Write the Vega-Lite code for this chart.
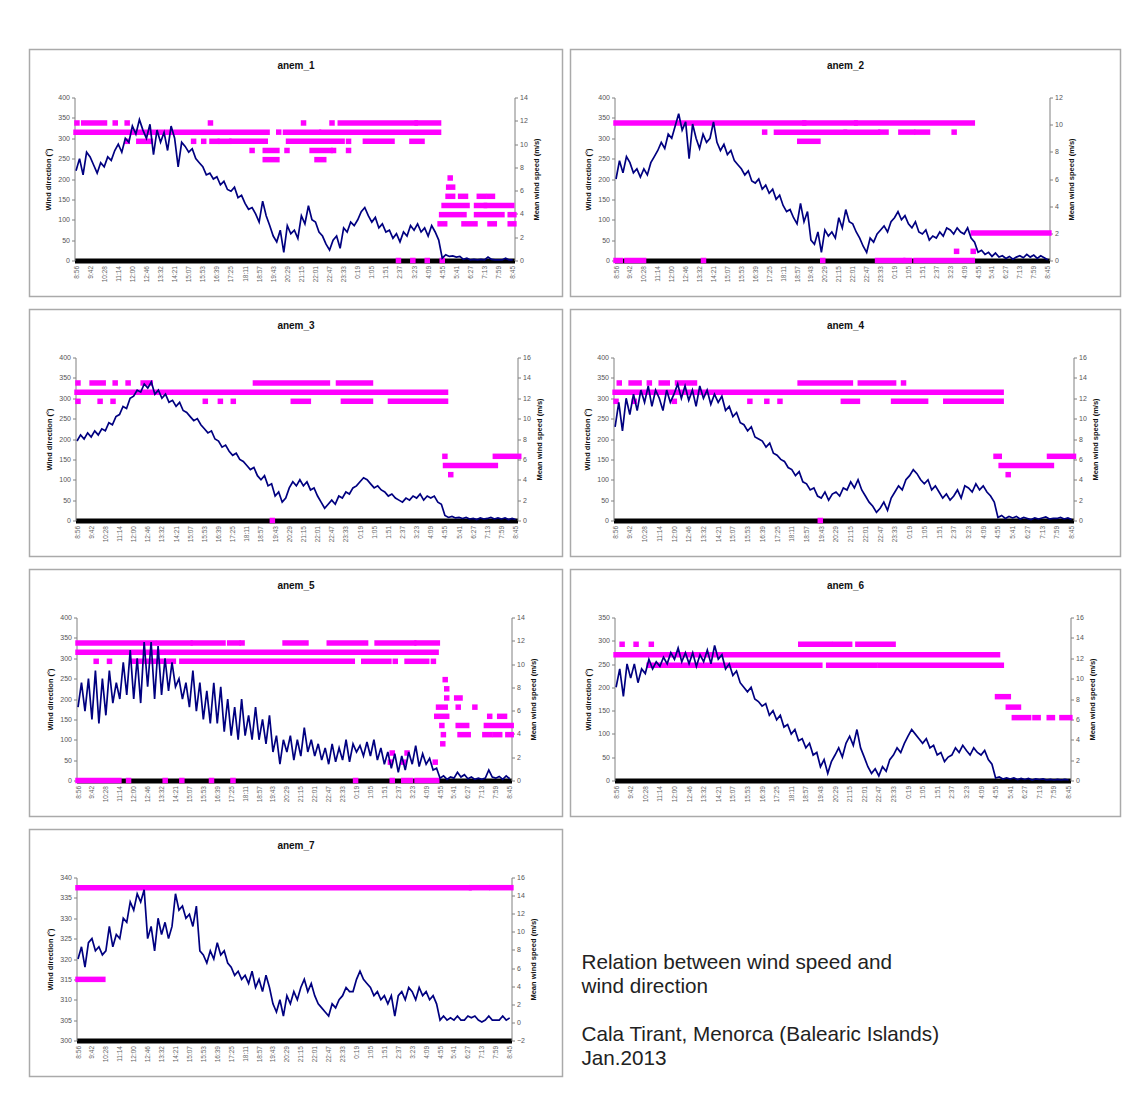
{
"$schema": "https://vega.github.io/schema/vega-lite/v6.json",
"padding": {"left": 28.5, "top": 48.5, "right": 4, "bottom": 4},
"config": {
  "font": "Liberation Sans",
  "view": {"stroke": "#aaaaaa", "strokeWidth": 1.5},
  "title": {"fontSize": 10, "fontWeight": "bold", "font": "Liberation Sans", "color": "#111111", "anchor": "middle"},
  "axis": {"labelFont": "Liberation Sans", "labelFontSize": 7, "labelColor": "#555555", "titleFont": "Liberation Sans", "titleFontSize": 7.5, "titleFontWeight": "bold", "titleColor": "#111111", "domainColor": "#808080", "tickColor": "#808080", "tickSize": 3, "grid": false, "labelPadding": 2, "labelFlush": false, "labelOverlap": false, "titlePadding": 5},
  "axisX": {"domainColor": "#000000", "domainWidth": 5, "ticks": false, "labelAngle": 270, "labelPadding": 5, "labelFontSize": 6.5, "labelColor": "#666666"},
  "axisRight": {"titleAngle": 270, "titleBaseline": "top", "titlePadding": 5},
  "concat": {"spacing": 6}
},
"datasets": {
"speed": [
{"m":0,"a1":7.7,"a2":6.0,"a3":7.8,"a4":9.2,"a5":6.3,"a6":9.15,"a7":7.0},
{"m":11.5,"a1":8.75,"a2":7.35,"a3":8.4,"a4":11.6,"a5":8.4,"a6":10.95,"a7":8.35},
{"m":23,"a1":7.35,"a2":6.45,"a3":8.0,"a4":8.8,"a5":5.95,"a6":8.25,"a7":6.1},
{"m":34.5,"a1":9.3,"a2":7.65,"a3":8.6,"a4":12.0,"a5":8.75,"a6":11.45,"a7":8.8},
{"m":46,"a1":8.9,"a2":7.2,"a3":8.2,"a4":10.4,"a5":5.25,"a6":10.05,"a7":9.25},
{"m":57.5,"a1":8.2,"a2":6.45,"a3":8.8,"a4":12.4,"a5":9.45,"a6":11.45,"a7":7.9},
{"m":69,"a1":7.5,"a2":6.75,"a3":8.4,"a4":10.8,"a5":4.9,"a6":9.6,"a7":8.35},
{"m":80.5,"a1":8.4,"a2":6.15,"a3":9.0,"a4":12.8,"a5":8.75,"a6":10.95,"a7":7.45},
{"m":92,"a1":8.05,"a2":6.75,"a3":8.8,"a4":11.6,"a5":5.6,"a6":10.5,"a7":7.9},
{"m":103.5,"a1":8.9,"a2":6.3,"a3":9.6,"a4":13.2,"a5":9.45,"a6":11.9,"a7":10.6},
{"m":115,"a1":8.6,"a2":7.2,"a3":9.4,"a4":11.2,"a5":6.65,"a6":10.95,"a7":8.35},
{"m":126.5,"a1":9.45,"a2":7.65,"a3":10.2,"a4":12.8,"a5":8.4,"a6":11.65,"a7":9.7},
{"m":138,"a1":10.0,"a2":8.1,"a3":10.4,"a4":12.0,"a5":7.0,"a6":11.2,"a7":9.25},
{"m":149.5,"a1":9.3,"a2":8.7,"a3":11.2,"a4":10.8,"a5":10.15,"a6":12.1,"a7":11.5},
{"m":161,"a1":10.5,"a2":8.25,"a3":11.0,"a4":12.8,"a5":7.35,"a6":11.45,"a7":11.05},
{"m":172.5,"a1":10.15,"a2":9.3,"a3":12.0,"a4":11.6,"a5":11.2,"a6":12.55,"a7":13.3},
{"m":184,"a1":11.55,"a2":9.0,"a3":12.2,"a4":12.4,"a5":7.0,"a6":11.9,"a7":12.4},
{"m":195.5,"a1":10.85,"a2":9.9,"a3":12.8,"a4":13.4,"a5":10.5,"a6":13.0,"a7":14.2},
{"m":207,"a1":12.1,"a2":10.8,"a3":12.6,"a4":12.0,"a5":6.65,"a6":11.65,"a7":13.3},
{"m":218.5,"a1":11.2,"a2":9.6,"a3":13.4,"a4":13.2,"a5":11.9,"a6":12.55,"a7":14.65},
{"m":230,"a1":10.5,"a2":10.2,"a3":13.0,"a4":11.8,"a5":8.05,"a6":11.45,"a7":9.25},
{"m":241.5,"a1":11.7,"a2":7.5,"a3":13.6,"a4":12.8,"a5":11.9,"a6":12.55,"a7":10.6},
{"m":253,"a1":9.1,"a2":10.05,"a3":12.4,"a4":11.2,"a5":7.0,"a6":11.2,"a7":7.9},
{"m":264.5,"a1":11.2,"a2":9.0,"a3":12.8,"a4":13.2,"a5":11.55,"a6":12.35,"a7":11.5},
{"m":276,"a1":10.15,"a2":8.25,"a3":12.0,"a4":12.0,"a5":7.35,"a6":11.65,"a7":9.7},
{"m":287.5,"a1":11.0,"a2":9.3,"a3":12.4,"a4":12.8,"a5":10.5,"a6":12.8,"a7":11.05},
{"m":299,"a1":9.45,"a2":8.7,"a3":11.6,"a4":11.4,"a5":7.7,"a6":11.45,"a7":9.25},
{"m":310.5,"a1":11.55,"a2":9.0,"a3":11.8,"a4":12.4,"a5":10.15,"a6":13.25,"a7":10.6},
{"m":322,"a1":10.5,"a2":10.2,"a3":11.2,"a4":11.6,"a5":8.05,"a6":11.9,"a7":14.2},
{"m":333.5,"a1":8.05,"a2":8.7,"a3":11.6,"a4":12.2,"a5":8.75,"a6":12.35,"a7":12.4},
{"m":345,"a1":10.15,"a2":8.1,"a3":10.8,"a4":10.8,"a5":7.0,"a6":10.95,"a7":12.85},
{"m":356.5,"a1":9.8,"a2":8.55,"a3":10.6,"a4":11.2,"a5":8.4,"a6":11.45,"a7":11.5},
{"m":368,"a1":9.3,"a2":7.8,"a3":10.2,"a4":10.2,"a5":6.3,"a6":10.3,"a7":11.95},
{"m":379.5,"a1":9.6,"a2":8.1,"a3":9.8,"a4":10.6,"a5":9.45,"a6":10.75,"a7":10.6},
{"m":391,"a1":8.75,"a2":7.35,"a3":10.0,"a4":9.6,"a5":5.95,"a6":9.6,"a7":12.85},
{"m":402.5,"a1":8.4,"a2":7.05,"a3":9.4,"a4":9.4,"a5":8.4,"a6":9.15,"a7":7.9},
{"m":414,"a1":8.05,"a2":6.75,"a3":9.0,"a4":8.8,"a5":5.25,"a6":8.7,"a7":7.45},
{"m":425.5,"a1":7.35,"a2":6.3,"a3":8.6,"a4":9.2,"a5":7.7,"a6":9.15,"a7":6.55},
{"m":437,"a1":7.5,"a2":6.6,"a3":8.8,"a4":8.2,"a5":4.9,"a6":8.0,"a7":7.9},
{"m":448.5,"a1":7.0,"a2":5.85,"a3":8.0,"a4":8.0,"a5":8.4,"a6":7.75,"a7":7.0},
{"m":460,"a1":7.2,"a2":5.7,"a3":7.8,"a4":7.8,"a5":4.9,"a6":7.3,"a7":8.8},
{"m":471.5,"a1":6.5,"a2":6.0,"a3":7.2,"a4":7.2,"a5":8.05,"a6":7.55,"a7":7.45},
{"m":483,"a1":6.8,"a2":5.25,"a3":7.4,"a4":7.6,"a5":4.2,"a6":6.4,"a7":7.9},
{"m":494.5,"a1":6.1,"a2":5.55,"a3":6.8,"a4":6.6,"a5":7.0,"a6":6.85,"a7":6.55},
{"m":506,"a1":5.95,"a2":4.95,"a3":6.4,"a4":6.4,"a5":3.85,"a6":5.95,"a7":6.1},
{"m":517.5,"a1":6.3,"a2":5.25,"a3":6.6,"a4":6.0,"a5":6.3,"a6":6.4,"a7":5.2},
{"m":529,"a1":5.4,"a2":4.5,"a3":6.0,"a4":5.8,"a5":3.5,"a6":5.25,"a7":5.65},
{"m":540.5,"a1":5.6,"a2":4.8,"a3":5.8,"a4":5.2,"a5":7.0,"a6":5.5,"a7":4.75},
{"m":552,"a1":4.9,"a2":4.05,"a3":5.4,"a4":5.0,"a5":3.85,"a6":4.55,"a7":5.2},
{"m":563.5,"a1":4.4,"a2":3.6,"a3":5.0,"a4":4.4,"a5":5.6,"a6":5.0,"a7":4.3},
{"m":575,"a1":4.55,"a2":3.75,"a3":5.2,"a4":4.8,"a5":3.5,"a6":3.9,"a7":5.65},
{"m":586.5,"a1":4.0,"a2":3.15,"a3":4.4,"a4":3.8,"a5":6.3,"a6":4.1,"a7":3.85},
{"m":598,"a1":3.3,"a2":2.7,"a3":4.0,"a4":3.6,"a5":3.5,"a6":3.2,"a7":4.75},
{"m":609.5,"a1":5.1,"a2":4.2,"a3":4.4,"a4":3.0,"a5":5.25,"a6":3.65,"a7":3.4},
{"m":621,"a1":3.85,"a2":2.85,"a3":3.4,"a4":3.2,"a5":3.15,"a6":2.5,"a7":5.2},
{"m":632.5,"a1":3.0,"a2":3.6,"a3":3.6,"a4":2.4,"a5":5.6,"a6":2.75,"a7":3.85},
{"m":644,"a1":2.1,"a2":1.5,"a3":2.4,"a4":2.2,"a5":2.45,"a6":1.35,"a7":2.05},
{"m":655.5,"a1":1.6,"a2":1.2,"a3":2.8,"a4":2.8,"a5":3.85,"a6":2.05,"a7":1.15},
{"m":667,"a1":2.6,"a2":2.1,"a3":1.8,"a4":2.0,"a5":1.4,"a6":0.7,"a7":2.5},
{"m":678.5,"a1":0.7,"a2":0.6,"a3":2.2,"a4":2.6,"a5":3.5,"a6":1.85,"a7":0.7},
{"m":690,"a1":3.0,"a2":2.25,"a3":3.2,"a4":2.8,"a5":2.45,"a6":2.5,"a7":2.95},
{"m":701.5,"a1":2.3,"a2":1.8,"a3":3.8,"a4":2.4,"a5":3.85,"a6":3.2,"a7":2.05},
{"m":713,"a1":2.6,"a2":2.1,"a3":3.4,"a4":3.2,"a5":1.75,"a6":2.3,"a7":3.4},
{"m":724.5,"a1":1.9,"a2":1.65,"a3":4.0,"a4":3.0,"a5":3.5,"a6":3.65,"a7":2.5},
{"m":736,"a1":3.85,"a2":3.15,"a3":3.4,"a4":3.8,"a5":2.1,"a6":4.35,"a7":3.85},
{"m":747.5,"a1":3.15,"a2":2.4,"a3":3.8,"a4":3.2,"a5":4.55,"a6":3.45,"a7":4.75},
{"m":759,"a1":4.7,"a2":3.75,"a3":3.0,"a4":4.0,"a5":2.45,"a6":5.0,"a7":3.4},
{"m":770.5,"a1":3.5,"a2":2.85,"a3":3.2,"a4":3.0,"a5":3.5,"a6":3.2,"a7":4.3},
{"m":782,"a1":3.3,"a2":2.7,"a3":2.4,"a4":2.4,"a5":2.1,"a6":2.3,"a7":2.95},
{"m":793.5,"a1":2.45,"a2":2.1,"a3":1.8,"a4":1.8,"a5":3.15,"a6":1.35,"a7":2.05},
{"m":805,"a1":2.1,"a2":1.65,"a3":1.2,"a4":1.4,"a5":1.75,"a6":0.7,"a7":1.6},
{"m":816.5,"a1":1.4,"a2":1.05,"a3":1.6,"a4":0.8,"a5":2.8,"a6":1.15,"a7":1.15},
{"m":828,"a1":0.9,"a2":0.6,"a3":2.0,"a4":1.2,"a5":1.4,"a6":0.45,"a7":0.7},
{"m":839.5,"a1":1.75,"a2":1.65,"a3":1.6,"a4":1.8,"a5":3.15,"a6":1.35,"a7":2.05},
{"m":851,"a1":2.1,"a2":1.35,"a3":2.4,"a4":1.0,"a5":1.6,"a6":0.9,"a7":1.6},
{"m":862.5,"a1":1.05,"a2":1.95,"a3":2.2,"a4":2.2,"a5":2.8,"a6":2.05,"a7":2.5},
{"m":874,"a1":2.8,"a2":2.25,"a3":2.8,"a4":2.8,"a5":1.75,"a6":2.5,"a7":2.95},
{"m":885.5,"a1":2.45,"a2":2.55,"a3":2.6,"a4":3.4,"a5":3.5,"a6":3.2,"a7":3.85},
{"m":897,"a1":3.3,"a2":2.1,"a3":3.2,"a4":3.0,"a5":1.6,"a6":2.75,"a7":3.4},
{"m":908.5,"a1":3.0,"a2":2.85,"a3":3.4,"a4":4.0,"a5":3.15,"a6":3.65,"a7":3.4},
{"m":920,"a1":3.5,"a2":3.15,"a3":3.8,"a4":4.4,"a5":2.45,"a6":4.35,"a7":4.75},
{"m":931.5,"a1":4.2,"a2":3.6,"a3":4.2,"a4":5.0,"a5":3.0,"a6":5.0,"a7":5.65},
{"m":943,"a1":4.55,"a2":3.0,"a3":4.0,"a4":4.6,"a5":2.1,"a6":4.55,"a7":4.75},
{"m":954.5,"a1":3.85,"a2":3.3,"a3":3.6,"a4":4.0,"a5":3.3,"a6":4.1,"a7":4.3},
{"m":966,"a1":3.3,"a2":2.7,"a3":3.2,"a4":3.6,"a5":2.1,"a6":3.65,"a7":3.85},
{"m":977.5,"a1":3.7,"a2":2.4,"a3":3.4,"a4":4.0,"a5":3.5,"a6":4.1,"a7":2.95},
{"m":989,"a1":2.8,"a2":2.85,"a3":3.0,"a4":3.0,"a5":1.75,"a6":3.2,"a7":3.4},
{"m":1000.5,"a1":3.15,"a2":2.1,"a3":2.8,"a4":3.4,"a5":2.8,"a6":3.45,"a7":2.5},
{"m":1012,"a1":2.45,"a2":1.95,"a3":2.4,"a4":2.8,"a5":1.4,"a6":2.5,"a7":2.95},
{"m":1023.5,"a1":2.6,"a2":2.25,"a3":2.6,"a4":2.2,"a5":2.45,"a6":2.75,"a7":2.05},
{"m":1035,"a1":1.9,"a2":1.5,"a3":2.2,"a4":2.6,"a5":1.05,"a6":1.85,"a7":2.95},
{"m":1046.5,"a1":2.3,"a2":1.8,"a3":2.0,"a4":2.0,"a5":2.3,"a6":2.3,"a7":0.7},
{"m":1058,"a1":1.6,"a2":1.65,"a3":1.8,"a4":2.4,"a5":0.7,"a6":2.5,"a7":2.95},
{"m":1069.5,"a1":2.45,"a2":2.1,"a3":2.2,"a4":3.0,"a5":2.1,"a6":3.2,"a7":3.4},
{"m":1081,"a1":2.1,"a2":1.8,"a3":2.0,"a4":2.2,"a5":0.9,"a6":2.75,"a7":2.5},
{"m":1092.5,"a1":3.0,"a2":2.4,"a3":2.4,"a4":3.4,"a5":2.45,"a6":3.45,"a7":3.85},
{"m":1104,"a1":2.6,"a2":2.25,"a3":2.2,"a4":3.2,"a5":1.4,"a6":2.95,"a7":3.4},
{"m":1115.5,"a1":3.15,"a2":1.95,"a3":2.6,"a4":2.8,"a5":3.0,"a6":2.5,"a7":2.5},
{"m":1127,"a1":2.45,"a2":2.4,"a3":2.0,"a4":3.6,"a5":1.2,"a6":3.2,"a7":3.85},
{"m":1138.5,"a1":2.8,"a2":2.1,"a3":2.4,"a4":3.0,"a5":2.3,"a6":2.75,"a7":2.95},
{"m":1150,"a1":2.1,"a2":1.95,"a3":2.2,"a4":3.4,"a5":1.4,"a6":2.5,"a7":3.4},
{"m":1161.5,"a1":3.0,"a2":2.4,"a3":2.4,"a4":2.8,"a5":1.9,"a6":2.95,"a7":2.5},
{"m":1173,"a1":2.45,"a2":1.65,"a3":1.8,"a4":2.4,"a5":0.9,"a6":2.05,"a7":2.95},
{"m":1184.5,"a1":1.75,"a2":1.35,"a3":1.6,"a4":1.8,"a5":1.05,"a6":1.6,"a7":2.05},
{"m":1196,"a1":0.2,"a2":0.6,"a3":0.5,"a4":0.3,"a5":0.2,"a6":0.25,"a7":0.25},
{"m":1207.5,"a1":0.5,"a2":0.75,"a3":0.3,"a4":0.5,"a5":0.4,"a6":0.35,"a7":0.7},
{"m":1219,"a1":0.35,"a2":0.45,"a3":0.4,"a4":0.2,"a5":0.1,"a6":0.15,"a7":0.25},
{"m":1230.5,"a1":0.4,"a2":0.6,"a3":0.25,"a4":0.4,"a5":0.3,"a6":0.25,"a7":0.5},
{"m":1242,"a1":0.3,"a2":0.3,"a3":0.3,"a4":0.25,"a5":0.2,"a6":0.15,"a7":0.25},
{"m":1253.5,"a1":0.35,"a2":0.55,"a3":0.2,"a4":0.4,"a5":0.7,"a6":0.25,"a7":0.7},
{"m":1265,"a1":0.1,"a2":0.25,"a3":0.3,"a4":0.15,"a5":0.3,"a6":0.1,"a7":0.25},
{"m":1276.5,"a1":0.2,"a2":0.35,"a3":0.15,"a4":0.3,"a5":0.5,"a6":0.2,"a7":0.25},
{"m":1288,"a1":0.05,"a2":0.15,"a3":0.2,"a4":0.2,"a5":0.15,"a6":0.1,"a7":0.7},
{"m":1299.5,"a1":0.1,"a2":0.3,"a3":0.1,"a4":0.1,"a5":0.3,"a6":0.2,"a7":0.5},
{"m":1311,"a1":0.05,"a2":0.1,"a3":0.25,"a4":0.25,"a5":0.1,"a6":0.05,"a7":0.7},
{"m":1322.5,"a1":0.1,"a2":0.25,"a3":0.15,"a4":0.15,"a5":0.2,"a6":0.15,"a7":0.25},
{"m":1334,"a1":0.05,"a2":0.35,"a3":0.2,"a4":0.25,"a5":0.1,"a6":0.1,"a7":0.05},
{"m":1345.5,"a1":0.3,"a2":0.2,"a3":0.3,"a4":0.35,"a5":0.2,"a6":0.15,"a7":0.25},
{"m":1357,"a1":0.1,"a2":0.45,"a3":0.15,"a4":0.15,"a5":0.9,"a6":0.05,"a7":0.7},
{"m":1368.5,"a1":0.05,"a2":0.25,"a3":0.25,"a4":0.2,"a5":0.3,"a6":0.1,"a7":0.25},
{"m":1380,"a1":0.05,"a2":0.4,"a3":0.15,"a4":0.2,"a5":0.2,"a6":0.05,"a7":0.25},
{"m":1391.5,"a1":0.05,"a2":0.15,"a3":0.25,"a4":0.3,"a5":0.35,"a6":0.1,"a7":0.25},
{"m":1403,"a1":0.2,"a2":0.35,"a3":0.1,"a4":0.15,"a5":0.1,"a6":0.05,"a7":0.7},
{"m":1414.5,"a1":0.05,"a2":0.2,"a3":0.2,"a4":0.25,"a5":0.4,"a6":0.1,"a7":0.25},
{"m":1426,"a1":0.05,"a2":0.05,"a3":0.1,"a4":0.1,"a5":0.15,"a6":0.05,"a7":0.5}
],
"dir": [
{"p":1,"a":0,"b":624,"d":315},{"p":1,"a":662,"b":662,"d":315},{"p":1,"a":684,"b":792,"d":315},{"p":1,"a":803,"b":1184,"d":315},
{"p":1,"a":3,"b":3,"d":337.5},{"p":1,"a":25,"b":93,"d":337.5},{"p":1,"a":128,"b":128,"d":337.5},{"p":1,"a":167,"b":167,"d":337.5},{"p":1,"a":439,"b":439,"d":337.5},{"p":1,"a":743,"b":743,"d":337.5},{"p":1,"a":836,"b":836,"d":337.5},{"p":1,"a":863,"b":1108,"d":337.5},{"p":1,"a":1114,"b":1184,"d":337.5},
{"p":1,"a":167,"b":167,"d":292.5},{"p":1,"a":205,"b":243,"d":292.5},{"p":1,"a":384,"b":384,"d":292.5},{"p":1,"a":417,"b":417,"d":292.5},{"p":1,"a":444,"b":460,"d":292.5},{"p":1,"a":471,"b":499,"d":292.5},{"p":1,"a":509,"b":618,"d":292.5},{"p":1,"a":694,"b":869,"d":292.5},{"p":1,"a":890,"b":890,"d":292.5},{"p":1,"a":945,"b":1032,"d":292.5},{"p":1,"a":1097,"b":1130,"d":292.5},
{"p":1,"a":575,"b":575,"d":270},{"p":1,"a":618,"b":656,"d":270},{"p":1,"a":689,"b":689,"d":270},{"p":1,"a":771,"b":830,"d":270},{"p":1,"a":841,"b":841,"d":270},{"p":1,"a":890,"b":890,"d":270},
{"p":1,"a":618,"b":656,"d":247.5},{"p":1,"a":787,"b":809,"d":247.5},
{"p":1,"a":1222,"b":1222,"d":202.5},{"p":1,"a":1217,"b":1230,"d":180},
{"p":1,"a":1215,"b":1230,"d":157.5},{"p":1,"a":1256,"b":1272,"d":157.5},{"p":1,"a":1317,"b":1331,"d":157.5},{"p":1,"a":1348,"b":1360,"d":157.5},
{"p":1,"a":1202,"b":1277,"d":135},{"p":1,"a":1308,"b":1334,"d":135},{"p":1,"a":1340,"b":1423,"d":135},
{"p":1,"a":1194,"b":1267,"d":112.5},{"p":1,"a":1308,"b":1391,"d":112.5},{"p":1,"a":1418,"b":1430,"d":112.5},
{"p":1,"a":1189,"b":1204,"d":90},{"p":1,"a":1267,"b":1303,"d":90},{"p":1,"a":1352,"b":1366,"d":90},{"p":1,"a":1418,"b":1430,"d":90},
{"p":1,"a":1053,"b":1053,"d":0},{"p":1,"a":1100,"b":1100,"d":0},{"p":1,"a":1147,"b":1147,"d":0},{"p":1,"a":1196,"b":1196,"d":0},

{"p":2,"a":0,"b":620,"d":337.5},{"p":2,"a":624,"b":790,"d":337.5},{"p":2,"a":795,"b":1177,"d":337.5},
{"p":2,"a":491,"b":491,"d":315},{"p":2,"a":530,"b":755,"d":315},{"p":2,"a":760,"b":864,"d":315},{"p":2,"a":875,"b":892,"d":315},{"p":2,"a":941,"b":980,"d":315},{"p":2,"a":994,"b":1029,"d":315},{"p":2,"a":1117,"b":1117,"d":315},
{"p":2,"a":607,"b":667,"d":292.5},
{"p":2,"a":1180,"b":1430,"d":67.5},
{"p":2,"a":1125,"b":1125,"d":22.5},{"p":2,"a":1180,"b":1180,"d":22.5},
{"p":2,"a":0,"b":14,"d":0},{"p":2,"a":36,"b":91,"d":0},{"p":2,"a":289,"b":289,"d":0},{"p":2,"a":683,"b":683,"d":0},{"p":2,"a":864,"b":947,"d":0},{"p":2,"a":958,"b":969,"d":0},{"p":2,"a":991,"b":1177,"d":0},

{"p":3,"a":0,"b":1198,"d":315},
{"p":3,"a":3,"b":3,"d":337.5},{"p":3,"a":49,"b":85,"d":337.5},{"p":3,"a":124,"b":124,"d":337.5},{"p":3,"a":166,"b":166,"d":337.5},{"p":3,"a":215,"b":238,"d":337.5},{"p":3,"a":580,"b":814,"d":337.5},{"p":3,"a":850,"b":954,"d":337.5},
{"p":3,"a":3,"b":3,"d":292.5},{"p":3,"a":75,"b":75,"d":292.5},{"p":3,"a":117,"b":117,"d":292.5},{"p":3,"a":417,"b":417,"d":292.5},{"p":3,"a":466,"b":466,"d":292.5},{"p":3,"a":508,"b":508,"d":292.5},{"p":3,"a":703,"b":752,"d":292.5},{"p":3,"a":866,"b":954,"d":292.5},{"p":3,"a":1019,"b":1198,"d":292.5},
{"p":3,"a":1196,"b":1196,"d":157.5},{"p":3,"a":1360,"b":1436,"d":157.5},
{"p":3,"a":1198,"b":1360,"d":135},
{"p":3,"a":1215,"b":1215,"d":112.5},
{"p":3,"a":635,"b":635,"d":0},

{"p":4,"a":0,"b":1206,"d":315},
{"p":4,"a":13,"b":13,"d":337.5},{"p":4,"a":50,"b":75,"d":337.5},{"p":4,"a":107,"b":107,"d":337.5},{"p":4,"a":144,"b":163,"d":337.5},{"p":4,"a":195,"b":248,"d":337.5},{"p":4,"a":578,"b":735,"d":337.5},{"p":4,"a":766,"b":870,"d":337.5},{"p":4,"a":901,"b":901,"d":337.5},
{"p":4,"a":3,"b":3,"d":292.5},{"p":4,"a":60,"b":60,"d":292.5},{"p":4,"a":185,"b":185,"d":292.5},{"p":4,"a":421,"b":421,"d":292.5},{"p":4,"a":474,"b":474,"d":292.5},{"p":4,"a":515,"b":515,"d":292.5},{"p":4,"a":713,"b":757,"d":292.5},{"p":4,"a":870,"b":970,"d":292.5},{"p":4,"a":1033,"b":1206,"d":292.5},
{"p":4,"a":1190,"b":1200,"d":157.5},{"p":4,"a":1357,"b":1432,"d":157.5},
{"p":4,"a":1206,"b":1363,"d":135},
{"p":4,"a":1228,"b":1228,"d":112.5},
{"p":4,"a":641,"b":641,"d":0},

{"p":5,"a":0,"b":1183,"d":315},
{"p":5,"a":0,"b":250,"d":337.5},{"p":5,"a":266,"b":370,"d":337.5},{"p":5,"a":381,"b":479,"d":337.5},{"p":5,"a":501,"b":529,"d":337.5},{"p":5,"a":542,"b":542,"d":337.5},{"p":5,"a":684,"b":753,"d":337.5},{"p":5,"a":830,"b":950,"d":337.5},{"p":5,"a":988,"b":1109,"d":337.5},{"p":5,"a":1120,"b":1187,"d":337.5},
{"p":5,"a":60,"b":60,"d":292.5},{"p":5,"a":104,"b":104,"d":292.5},{"p":5,"a":178,"b":315,"d":292.5},{"p":5,"a":343,"b":906,"d":292.5},{"p":5,"a":944,"b":1027,"d":292.5},{"p":5,"a":1048,"b":1048,"d":292.5},{"p":5,"a":1087,"b":1152,"d":292.5},{"p":5,"a":1174,"b":1174,"d":292.5},
{"p":5,"a":1213,"b":1213,"d":247.5},{"p":5,"a":1218,"b":1218,"d":225},
{"p":5,"a":1218,"b":1218,"d":202.5},{"p":5,"a":1251,"b":1262,"d":202.5},
{"p":5,"a":1191,"b":1213,"d":180},{"p":5,"a":1256,"b":1256,"d":180},{"p":5,"a":1311,"b":1311,"d":180},
{"p":5,"a":1185,"b":1218,"d":157.5},{"p":5,"a":1360,"b":1360,"d":157.5},{"p":5,"a":1393,"b":1409,"d":157.5},
{"p":5,"a":1202,"b":1202,"d":135},{"p":5,"a":1256,"b":1284,"d":135},{"p":5,"a":1349,"b":1431,"d":135},
{"p":5,"a":1207,"b":1207,"d":112.5},{"p":5,"a":1262,"b":1289,"d":112.5},{"p":5,"a":1344,"b":1360,"d":112.5},{"p":5,"a":1377,"b":1393,"d":112.5},{"p":5,"a":1420,"b":1431,"d":112.5},
{"p":5,"a":1205,"b":1205,"d":90},
{"p":5,"a":1038,"b":1038,"d":67.5},{"p":5,"a":1087,"b":1087,"d":67.5},
{"p":5,"a":1032,"b":1032,"d":45},{"p":5,"a":1076,"b":1076,"d":45},{"p":5,"a":1180,"b":1180,"d":45},
{"p":5,"a":0,"b":135,"d":0},{"p":5,"a":167,"b":167,"d":0},{"p":5,"a":288,"b":288,"d":0},{"p":5,"a":343,"b":343,"d":0},{"p":5,"a":441,"b":441,"d":0},{"p":5,"a":512,"b":512,"d":0},{"p":5,"a":917,"b":917,"d":0},{"p":5,"a":1038,"b":1038,"d":0},{"p":5,"a":1076,"b":1098,"d":0},{"p":5,"a":1120,"b":1185,"d":0},

{"p":6,"a":19,"b":19,"d":292.5},{"p":6,"a":63,"b":63,"d":292.5},{"p":6,"a":111,"b":111,"d":292.5},{"p":6,"a":582,"b":673,"d":292.5},{"p":6,"a":689,"b":736,"d":292.5},{"p":6,"a":762,"b":873,"d":292.5},
{"p":6,"a":0,"b":1202,"d":270},
{"p":6,"a":104,"b":642,"d":247.5},{"p":6,"a":670,"b":816,"d":247.5},{"p":6,"a":832,"b":1214,"d":247.5},
{"p":6,"a":1202,"b":1236,"d":180},
{"p":6,"a":1236,"b":1268,"d":157.5},
{"p":6,"a":1255,"b":1300,"d":135},{"p":6,"a":1320,"b":1330,"d":135},{"p":6,"a":1365,"b":1375,"d":135},{"p":6,"a":1405,"b":1430,"d":135},

{"p":7,"a":0,"b":1292,"d":337.5},{"p":7,"a":1300,"b":1352,"d":337.5},{"p":7,"a":1368,"b":1430,"d":337.5},
{"p":7,"a":0,"b":82,"d":315}
]
},
"vconcat": [
{"hconcat": [
 {"width": 533, "height": 247, "title": {"text": "anem_1", "offset": -21},
  "layer": [
   {"data": {"name": "dir"}, "transform": [{"filter": "datum.p == 1"}],
    "mark": {"type": "rule", "color": "#ff00ff", "strokeWidth": 5.5, "strokeCap": "square"},
    "encoding": {
     "x": {"field": "a", "type": "quantitative", "scale": {"domain": [-5, 1432], "range": [45, 485], "nice": false, "zero": false},
       "axis": {"offset": -36, "title": null, "values": [0,46,92,138,184,230,276,322,368,414,460,506,552,598,644,690,736,782,828,874,920,966,1012,1058,1104,1150,1196,1242,1288,1334,1380,1426], "labelExpr": "['8:56','9:42','10:28','11:14','12:00','12:46','13:32','14:21','15:07','15:53','16:39','17:25','18:11','18:57','19:43','20:29','21:15','22:01','22:47','23:33','0:19','1:05','1:51','2:37','3:23','4:09','4:55','5:41','6:27','7:13','7:59','8:45'][round(datum.value/46)]"}},
     "x2": {"field": "b"},
     "y": {"field": "d", "type": "quantitative", "scale": {"domain": [0, 400], "range": [211, 48], "nice": false},
       "axis": {"orient": "left", "offset": -45, "values": [0,50,100,150,200,250,300,350,400], "title": "Wind direction (°)"}}
    }},
   {"data": {"name": "speed"},
    "mark": {"type": "line", "color": "#000080", "strokeWidth": 1.7},
    "encoding": {
     "x": {"field": "m", "type": "quantitative",
       "axis": {"offset": -36, "title": null, "values": [0,46,92,138,184,230,276,322,368,414,460,506,552,598,644,690,736,782,828,874,920,966,1012,1058,1104,1150,1196,1242,1288,1334,1380,1426], "labelExpr": "['8:56','9:42','10:28','11:14','12:00','12:46','13:32','14:21','15:07','15:53','16:39','17:25','18:11','18:57','19:43','20:29','21:15','22:01','22:47','23:33','0:19','1:05','1:51','2:37','3:23','4:09','4:55','5:41','6:27','7:13','7:59','8:45'][round(datum.value/46)]"}},
     "y": {"field": "a1", "type": "quantitative", "scale": {"domain": [0, 14], "range": [211, 48], "nice": false},
       "axis": {"orient": "right", "offset": -48, "values": [0,2,4,6,8,10,12,14], "title": "Mean wind speed (m/s)"}}
    }}
  ],
  "resolve": {"scale": {"y": "independent"}}
 },
 {"width": 550, "height": 247, "title": {"text": "anem_2", "offset": -21},
  "layer": [
   {"data": {"name": "dir"}, "transform": [{"filter": "datum.p == 2"}],
    "mark": {"type": "rule", "color": "#ff00ff", "strokeWidth": 5.5, "strokeCap": "square"},
    "encoding": {
     "x": {"field": "a", "type": "quantitative", "scale": {"domain": [-5, 1432], "range": [44, 479], "nice": false, "zero": false},
       "axis": {"offset": -36, "title": null, "values": [0,46,92,138,184,230,276,322,368,414,460,506,552,598,644,690,736,782,828,874,920,966,1012,1058,1104,1150,1196,1242,1288,1334,1380,1426], "labelExpr": "['8:56','9:42','10:28','11:14','12:00','12:46','13:32','14:21','15:07','15:53','16:39','17:25','18:11','18:57','19:43','20:29','21:15','22:01','22:47','23:33','0:19','1:05','1:51','2:37','3:23','4:09','4:55','5:41','6:27','7:13','7:59','8:45'][round(datum.value/46)]"}},
     "x2": {"field": "b"},
     "y": {"field": "d", "type": "quantitative", "scale": {"domain": [0, 400], "range": [211, 48], "nice": false},
       "axis": {"orient": "left", "offset": -44, "values": [0,50,100,150,200,250,300,350,400], "title": "Wind direction (°)"}}
    }},
   {"data": {"name": "speed"},
    "mark": {"type": "line", "color": "#000080", "strokeWidth": 1.7},
    "encoding": {
     "x": {"field": "m", "type": "quantitative",
       "axis": {"offset": -36, "title": null, "values": [0,46,92,138,184,230,276,322,368,414,460,506,552,598,644,690,736,782,828,874,920,966,1012,1058,1104,1150,1196,1242,1288,1334,1380,1426], "labelExpr": "['8:56','9:42','10:28','11:14','12:00','12:46','13:32','14:21','15:07','15:53','16:39','17:25','18:11','18:57','19:43','20:29','21:15','22:01','22:47','23:33','0:19','1:05','1:51','2:37','3:23','4:09','4:55','5:41','6:27','7:13','7:59','8:45'][round(datum.value/46)]"}},
     "y": {"field": "a2", "type": "quantitative", "scale": {"domain": [0, 12], "range": [211, 48], "nice": false},
       "axis": {"orient": "right", "offset": -71, "values": [0,2,4,6,8,10,12], "title": "Mean wind speed (m/s)"}}
    }}
  ],
  "resolve": {"scale": {"y": "independent"}}
 }
]},
{"hconcat": [
 {"width": 533, "height": 247, "title": {"text": "anem_3", "offset": -21},
  "layer": [
   {"data": {"name": "dir"}, "transform": [{"filter": "datum.p == 3"}],
    "mark": {"type": "rule", "color": "#ff00ff", "strokeWidth": 5.5, "strokeCap": "square"},
    "encoding": {
     "x": {"field": "a", "type": "quantitative", "scale": {"domain": [-5, 1432], "range": [46, 488], "nice": false, "zero": false},
       "axis": {"offset": -36, "title": null, "values": [0,46,92,138,184,230,276,322,368,414,460,506,552,598,644,690,736,782,828,874,920,966,1012,1058,1104,1150,1196,1242,1288,1334,1380,1426], "labelExpr": "['8:56','9:42','10:28','11:14','12:00','12:46','13:32','14:21','15:07','15:53','16:39','17:25','18:11','18:57','19:43','20:29','21:15','22:01','22:47','23:33','0:19','1:05','1:51','2:37','3:23','4:09','4:55','5:41','6:27','7:13','7:59','8:45'][round(datum.value/46)]"}},
     "x2": {"field": "b"},
     "y": {"field": "d", "type": "quantitative", "scale": {"domain": [0, 400], "range": [211, 48], "nice": false},
       "axis": {"orient": "left", "offset": -46, "values": [0,50,100,150,200,250,300,350,400], "title": "Wind direction (°)"}}
    }},
   {"data": {"name": "speed"},
    "mark": {"type": "line", "color": "#000080", "strokeWidth": 1.7},
    "encoding": {
     "x": {"field": "m", "type": "quantitative",
       "axis": {"offset": -36, "title": null, "values": [0,46,92,138,184,230,276,322,368,414,460,506,552,598,644,690,736,782,828,874,920,966,1012,1058,1104,1150,1196,1242,1288,1334,1380,1426], "labelExpr": "['8:56','9:42','10:28','11:14','12:00','12:46','13:32','14:21','15:07','15:53','16:39','17:25','18:11','18:57','19:43','20:29','21:15','22:01','22:47','23:33','0:19','1:05','1:51','2:37','3:23','4:09','4:55','5:41','6:27','7:13','7:59','8:45'][round(datum.value/46)]"}},
     "y": {"field": "a3", "type": "quantitative", "scale": {"domain": [0, 16], "range": [211, 48], "nice": false},
       "axis": {"orient": "right", "offset": -45, "values": [0,2,4,6,8,10,12,14,16], "title": "Mean wind speed (m/s)"}}
    }}
  ],
  "resolve": {"scale": {"y": "independent"}}
 },
 {"width": 550, "height": 247, "title": {"text": "anem_4", "offset": -21},
  "layer": [
   {"data": {"name": "dir"}, "transform": [{"filter": "datum.p == 4"}],
    "mark": {"type": "rule", "color": "#ff00ff", "strokeWidth": 5.5, "strokeCap": "square"},
    "encoding": {
     "x": {"field": "a", "type": "quantitative", "scale": {"domain": [-5, 1432], "range": [43, 503], "nice": false, "zero": false},
       "axis": {"offset": -36, "title": null, "values": [0,46,92,138,184,230,276,322,368,414,460,506,552,598,644,690,736,782,828,874,920,966,1012,1058,1104,1150,1196,1242,1288,1334,1380,1426], "labelExpr": "['8:56','9:42','10:28','11:14','12:00','12:46','13:32','14:21','15:07','15:53','16:39','17:25','18:11','18:57','19:43','20:29','21:15','22:01','22:47','23:33','0:19','1:05','1:51','2:37','3:23','4:09','4:55','5:41','6:27','7:13','7:59','8:45'][round(datum.value/46)]"}},
     "x2": {"field": "b"},
     "y": {"field": "d", "type": "quantitative", "scale": {"domain": [0, 400], "range": [211, 48], "nice": false},
       "axis": {"orient": "left", "offset": -43, "values": [0,50,100,150,200,250,300,350,400], "title": "Wind direction (°)"}}
    }},
   {"data": {"name": "speed"},
    "mark": {"type": "line", "color": "#000080", "strokeWidth": 1.7},
    "encoding": {
     "x": {"field": "m", "type": "quantitative",
       "axis": {"offset": -36, "title": null, "values": [0,46,92,138,184,230,276,322,368,414,460,506,552,598,644,690,736,782,828,874,920,966,1012,1058,1104,1150,1196,1242,1288,1334,1380,1426], "labelExpr": "['8:56','9:42','10:28','11:14','12:00','12:46','13:32','14:21','15:07','15:53','16:39','17:25','18:11','18:57','19:43','20:29','21:15','22:01','22:47','23:33','0:19','1:05','1:51','2:37','3:23','4:09','4:55','5:41','6:27','7:13','7:59','8:45'][round(datum.value/46)]"}},
     "y": {"field": "a4", "type": "quantitative", "scale": {"domain": [0, 16], "range": [211, 48], "nice": false},
       "axis": {"orient": "right", "offset": -47, "values": [0,2,4,6,8,10,12,14,16], "title": "Mean wind speed (m/s)"}}
    }}
  ],
  "resolve": {"scale": {"y": "independent"}}
 }
]},
{"hconcat": [
 {"width": 533, "height": 247, "title": {"text": "anem_5", "offset": -21},
  "layer": [
   {"data": {"name": "dir"}, "transform": [{"filter": "datum.p == 5"}],
    "mark": {"type": "rule", "color": "#ff00ff", "strokeWidth": 5.5, "strokeCap": "square"},
    "encoding": {
     "x": {"field": "a", "type": "quantitative", "scale": {"domain": [-5, 1432], "range": [47, 482], "nice": false, "zero": false},
       "axis": {"offset": -36, "title": null, "values": [0,46,92,138,184,230,276,322,368,414,460,506,552,598,644,690,736,782,828,874,920,966,1012,1058,1104,1150,1196,1242,1288,1334,1380,1426], "labelExpr": "['8:56','9:42','10:28','11:14','12:00','12:46','13:32','14:21','15:07','15:53','16:39','17:25','18:11','18:57','19:43','20:29','21:15','22:01','22:47','23:33','0:19','1:05','1:51','2:37','3:23','4:09','4:55','5:41','6:27','7:13','7:59','8:45'][round(datum.value/46)]"}},
     "x2": {"field": "b"},
     "y": {"field": "d", "type": "quantitative", "scale": {"domain": [0, 400], "range": [211, 48], "nice": false},
       "axis": {"orient": "left", "offset": -47, "values": [0,50,100,150,200,250,300,350,400], "title": "Wind direction (°)"}}
    }},
   {"data": {"name": "speed"},
    "mark": {"type": "line", "color": "#000080", "strokeWidth": 1.7},
    "encoding": {
     "x": {"field": "m", "type": "quantitative",
       "axis": {"offset": -36, "title": null, "values": [0,46,92,138,184,230,276,322,368,414,460,506,552,598,644,690,736,782,828,874,920,966,1012,1058,1104,1150,1196,1242,1288,1334,1380,1426], "labelExpr": "['8:56','9:42','10:28','11:14','12:00','12:46','13:32','14:21','15:07','15:53','16:39','17:25','18:11','18:57','19:43','20:29','21:15','22:01','22:47','23:33','0:19','1:05','1:51','2:37','3:23','4:09','4:55','5:41','6:27','7:13','7:59','8:45'][round(datum.value/46)]"}},
     "y": {"field": "a5", "type": "quantitative", "scale": {"domain": [0, 14], "range": [211, 48], "nice": false},
       "axis": {"orient": "right", "offset": -51, "values": [0,2,4,6,8,10,12,14], "title": "Mean wind speed (m/s)"}}
    }}
  ],
  "resolve": {"scale": {"y": "independent"}}
 },
 {"width": 550, "height": 247, "title": {"text": "anem_6", "offset": -21},
  "layer": [
   {"data": {"name": "dir"}, "transform": [{"filter": "datum.p == 6"}],
    "mark": {"type": "rule", "color": "#ff00ff", "strokeWidth": 5.5, "strokeCap": "square"},
    "encoding": {
     "x": {"field": "a", "type": "quantitative", "scale": {"domain": [-5, 1432], "range": [44, 500], "nice": false, "zero": false},
       "axis": {"offset": -36, "title": null, "values": [0,46,92,138,184,230,276,322,368,414,460,506,552,598,644,690,736,782,828,874,920,966,1012,1058,1104,1150,1196,1242,1288,1334,1380,1426], "labelExpr": "['8:56','9:42','10:28','11:14','12:00','12:46','13:32','14:21','15:07','15:53','16:39','17:25','18:11','18:57','19:43','20:29','21:15','22:01','22:47','23:33','0:19','1:05','1:51','2:37','3:23','4:09','4:55','5:41','6:27','7:13','7:59','8:45'][round(datum.value/46)]"}},
     "x2": {"field": "b"},
     "y": {"field": "d", "type": "quantitative", "scale": {"domain": [0, 350], "range": [211, 48], "nice": false},
       "axis": {"orient": "left", "offset": -44, "values": [0,50,100,150,200,250,300,350], "title": "Wind direction (°)"}}
    }},
   {"data": {"name": "speed"},
    "mark": {"type": "line", "color": "#000080", "strokeWidth": 1.7},
    "encoding": {
     "x": {"field": "m", "type": "quantitative",
       "axis": {"offset": -36, "title": null, "values": [0,46,92,138,184,230,276,322,368,414,460,506,552,598,644,690,736,782,828,874,920,966,1012,1058,1104,1150,1196,1242,1288,1334,1380,1426], "labelExpr": "['8:56','9:42','10:28','11:14','12:00','12:46','13:32','14:21','15:07','15:53','16:39','17:25','18:11','18:57','19:43','20:29','21:15','22:01','22:47','23:33','0:19','1:05','1:51','2:37','3:23','4:09','4:55','5:41','6:27','7:13','7:59','8:45'][round(datum.value/46)]"}},
     "y": {"field": "a6", "type": "quantitative", "scale": {"domain": [0, 16], "range": [211, 48], "nice": false},
       "axis": {"orient": "right", "offset": -50, "values": [0,2,4,6,8,10,12,14,16], "title": "Mean wind speed (m/s)"}}
    }}
  ],
  "resolve": {"scale": {"y": "independent"}}
 }
]},
{"hconcat": [
 {"width": 533, "height": 247, "title": {"text": "anem_7", "offset": -21},
  "layer": [
   {"data": {"name": "dir"}, "transform": [{"filter": "datum.p == 7"}],
    "mark": {"type": "rule", "color": "#ff00ff", "strokeWidth": 5.5, "strokeCap": "square"},
    "encoding": {
     "x": {"field": "a", "type": "quantitative", "scale": {"domain": [-5, 1432], "range": [47, 482], "nice": false, "zero": false},
       "axis": {"offset": -36, "title": null, "values": [0,46,92,138,184,230,276,322,368,414,460,506,552,598,644,690,736,782,828,874,920,966,1012,1058,1104,1150,1196,1242,1288,1334,1380,1426], "labelExpr": "['8:56','9:42','10:28','11:14','12:00','12:46','13:32','14:21','15:07','15:53','16:39','17:25','18:11','18:57','19:43','20:29','21:15','22:01','22:47','23:33','0:19','1:05','1:51','2:37','3:23','4:09','4:55','5:41','6:27','7:13','7:59','8:45'][round(datum.value/46)]"}},
     "x2": {"field": "b"},
     "y": {"field": "d", "type": "quantitative", "scale": {"domain": [300, 340], "range": [211, 48], "nice": false, "zero": false},
       "axis": {"orient": "left", "offset": -47, "values": [300,305,310,315,320,325,330,335,340], "title": "Wind direction (°)"}}
    }},
   {"data": {"name": "speed"},
    "mark": {"type": "line", "color": "#000080", "strokeWidth": 1.7},
    "encoding": {
     "x": {"field": "m", "type": "quantitative",
       "axis": {"offset": -36, "title": null, "values": [0,46,92,138,184,230,276,322,368,414,460,506,552,598,644,690,736,782,828,874,920,966,1012,1058,1104,1150,1196,1242,1288,1334,1380,1426], "labelExpr": "['8:56','9:42','10:28','11:14','12:00','12:46','13:32','14:21','15:07','15:53','16:39','17:25','18:11','18:57','19:43','20:29','21:15','22:01','22:47','23:33','0:19','1:05','1:51','2:37','3:23','4:09','4:55','5:41','6:27','7:13','7:59','8:45'][round(datum.value/46)]"}},
     "y": {"field": "a7", "type": "quantitative", "scale": {"domain": [-2, 16], "range": [211, 48], "nice": false, "zero": false},
       "axis": {"orient": "right", "offset": -51, "values": [-2,0,2,4,6,8,10,12,14,16], "title": "Mean wind speed (m/s)"}}
    }}
  ],
  "resolve": {"scale": {"y": "independent"}}
 },
 {"width": 550, "height": 247,
  "data": {"values": []},
  "mark": "text",
  "title": {"text": ["Relation between wind speed and", "wind direction"], "subtitle": ["Cala Tirant, Menorca (Balearic Islands)", "Jan.2013"], "orient": "bottom", "anchor": "start", "frame": "group", "offset": -124, "dx": 12, "fontSize": 20.7, "fontWeight": "normal", "lineHeight": 24, "color": "#222222", "font": "Liberation Sans", "subtitleFont": "Liberation Sans", "subtitleFontSize": 20.7, "subtitleFontWeight": "normal", "subtitleColor": "#222222", "subtitleLineHeight": 24, "subtitlePadding": 28}
 }
]}
],
"spacing": 11
}
